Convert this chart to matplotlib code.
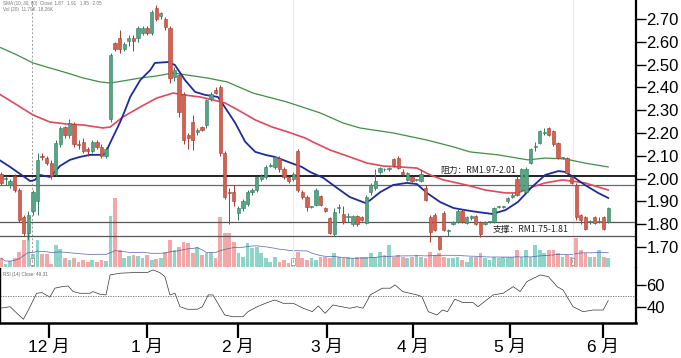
import matplotlib
matplotlib.use("Agg")
import matplotlib.pyplot as plt
import matplotlib.transforms as mtransforms
import numpy as np
import pandas as pd

plt.rcParams['font.family'] = ['Liberation Sans', 'Noto Sans CJK SC', 'DejaVu Sans']

# ---------------- data ----------------
opens = [2.02, 2.00, 1.97, 2.01, 1.95, 1.83, 1.76, 1.86, 1.90, 2.10,
         2.09, 2.07, 2.02, 2.15, 2.225, 2.19, 2.24, 2.15, 2.16, 2.13,
         2.12, 2.16, 2.14, 2.10, 2.26, 2.595, 2.615, 2.57, 2.605, 2.615,
         2.615, 2.64, 2.66, 2.64, 2.75, 2.715, 2.70, 2.66, 2.445, 2.455,
         2.37, 2.19, 2.25, 2.205, 2.225, 2.235, 2.35, 2.39, 2.40, 2.11,
         1.94, 1.94, 1.85, 1.87, 1.89, 1.94, 1.95, 2.00, 2.005, 2.055,
         2.05, 2.09, 2.04, 2.005, 2.00, 2.12, 1.94, 1.92, 1.875, 1.885,
         1.925, 1.87, 1.825, 1.755, 1.87, 1.845, 1.83, 1.80, 1.835, 1.83,
         1.805, 1.94, 1.96, 2.03, 2.04, 2.04, 2.085, 2.09, 2.03, 1.995,
         2.005, 1.995, 1.99, 1.96, 1.83, 1.84, 1.745, 1.85, 1.77, 1.80,
         1.81, 1.86, 1.805, 1.825, 1.835, 1.81, 1.80, 1.81, 1.81, 1.875,
         1.875, 1.90, 1.92, 2.00, 1.95, 1.94, 2.07, 2.14, 2.155, 2.20,
         2.22, 2.21, 2.155, 2.09, 2.09, 2.005, 1.97, 1.84, 1.83, 1.81,
         1.83, 1.81, 1.83, 1.81]
closes = [1.98, 2.00, 1.99, 1.95, 1.82, 1.76, 1.84, 1.94, 2.08, 2.095,
          2.07, 2.01, 2.155, 2.22, 2.19, 2.245, 2.15, 2.148, 2.12, 2.12,
          2.16, 2.14, 2.10, 2.13, 2.54, 2.57, 2.57, 2.59, 2.615, 2.605,
          2.66, 2.66, 2.64, 2.73, 2.70, 2.725, 2.665, 2.44, 2.475, 2.29,
          2.17, 2.18, 2.17, 2.215, 2.215, 2.345, 2.37, 2.375, 2.11, 1.92,
          1.935, 1.90, 1.87, 1.90, 1.94, 1.95, 2.005, 2.01, 2.05, 2.06,
          2.095, 2.04, 2.005, 1.99, 2.02, 1.95, 1.92, 1.875, 1.875, 1.95,
          1.885, 1.86, 1.76, 1.855, 1.87, 1.81, 1.83, 1.835, 1.80, 1.82,
          1.92, 1.97, 1.99, 2.045, 2.04, 2.045, 2.06, 2.045, 2.02, 2.025,
          1.99, 1.995, 2.02, 1.905, 1.765, 1.775, 1.69, 1.775, 1.77, 1.81,
          1.86, 1.81, 1.83, 1.835, 1.80, 1.755, 1.81, 1.81, 1.87, 1.875,
          1.875, 1.915, 1.93, 1.93, 2.04, 2.04, 2.13, 2.14, 2.21, 2.20,
          2.19, 2.15, 2.09, 2.09, 2.025, 1.98, 1.83, 1.82, 1.78, 1.81,
          1.805, 1.81, 1.78, 1.87]
highs = [2.03, 2.01, 2.00, 2.02, 1.96, 1.84, 1.86, 1.95, 2.11, 2.11,
         2.10, 2.08, 2.17, 2.23, 2.23, 2.26, 2.25, 2.17, 2.18, 2.14,
         2.17, 2.17, 2.15, 2.14, 2.55, 2.60, 2.65, 2.60, 2.63, 2.63,
         2.67, 2.67, 2.67, 2.74, 2.76, 2.73, 2.71, 2.67, 2.49, 2.46,
         2.38, 2.20, 2.28, 2.22, 2.23, 2.35, 2.38, 2.40, 2.41, 2.12,
         1.96, 1.97, 1.88, 1.91, 1.95, 1.96, 2.01, 2.02, 2.06, 2.07,
         2.10, 2.10, 2.05, 2.01, 2.03, 2.13, 1.95, 1.93, 1.88, 1.96,
         1.93, 1.875, 1.83, 1.87, 1.89, 1.88, 1.85, 1.84, 1.84, 1.835,
         1.93, 1.98, 2.04, 2.05, 2.045, 2.05, 2.09, 2.10, 2.04, 2.03,
         2.01, 2.00, 2.04, 1.97, 1.84, 1.85, 1.75, 1.86, 1.78, 1.815,
         1.87, 1.865, 1.835, 1.84, 1.84, 1.815, 1.815, 1.815, 1.875, 1.88,
         1.88, 1.92, 1.935, 2.01, 2.045, 2.05, 2.135, 2.16, 2.215, 2.22,
         2.225, 2.215, 2.16, 2.095, 2.095, 2.01, 1.98, 1.845, 1.835, 1.82,
         1.835, 1.83, 1.835, 1.875]
lows = [1.97, 1.97, 1.96, 1.94, 1.81, 1.75, 1.73, 1.84, 1.84, 2.08,
        2.06, 2.00, 2.01, 2.14, 2.18, 2.18, 2.14, 2.13, 2.11, 2.10,
        2.11, 2.13, 2.09, 2.09, 2.25, 2.56, 2.55, 2.56, 2.58, 2.56,
        2.60, 2.63, 2.63, 2.63, 2.69, 2.70, 2.65, 2.42, 2.43, 2.27,
        2.15, 2.13, 2.125, 2.19, 2.21, 2.22, 2.34, 2.37, 2.10, 1.91,
        1.80, 1.88, 1.82, 1.86, 1.88, 1.93, 1.94, 1.99, 2.00, 2.05,
        2.04, 2.03, 2.00, 1.98, 1.99, 1.94, 1.91, 1.86, 1.87, 1.88,
        1.88, 1.855, 1.755, 1.75, 1.85, 1.80, 1.81, 1.79, 1.79, 1.815,
        1.80, 1.93, 1.95, 2.02, 2.035, 2.035, 2.05, 2.04, 2.01, 1.99,
        1.985, 1.99, 1.985, 1.90, 1.72, 1.77, 1.685, 1.77, 1.75, 1.795,
        1.805, 1.805, 1.80, 1.82, 1.795, 1.745, 1.795, 1.805, 1.805, 1.87,
        1.87, 1.895, 1.915, 1.925, 1.945, 1.935, 2.065, 2.12, 2.15, 2.19,
        2.185, 2.145, 2.085, 2.085, 2.02, 1.975, 1.82, 1.80, 1.775, 1.80,
        1.80, 1.805, 1.775, 1.805]
volumes = [9, 3, 6, 9, 15, 27, 34, 13, 27, 13,
           13, 3, 22, 18, 9, 7, 9, 5, 7, 5,
           7, 5, 7, 6, 51, 69, 17, 9, 11, 12,
           11, 9, 12, 7, 8, 9, 15, 27, 17, 20,
           25, 24, 14, 20, 12, 14, 14, 9, 50, 34,
           34, 25, 14, 10, 24, 19, 20, 14, 9, 5,
           10, 5, 7, 4, 7, 15, 9, 7, 9, 7,
           10, 10, 9, 14, 10, 9, 10, 9, 10, 10,
           10, 14, 10, 15, 12, 22, 10, 12, 10, 9,
           10, 12, 10, 9, 15, 12, 14, 10, 9, 9,
           10, 7, 5, 10, 10, 14, 9, 7, 10, 9,
           10, 10, 10, 17, 10, 17, 10, 22, 17, 14,
           17, 17, 14, 10, 12, 10, 29, 17, 14, 10,
           10, 17, 10, 9]

# moving averages (trading-day position, price)
ma10_day = [-0.4, 2.0, 4.2, 6.4, 7.4, 8.5, 10.7, 11.8, 12.9, 15.1, 17.3, 19.5, 21.7, 22.8,
            23.9, 26.1, 27.2, 28.3, 30.5, 32.7, 33.7, 36.6, 38.1, 40.3, 42.5, 44.7, 47.5,
            49.0, 51.3, 53.5, 55.7, 57.9, 60.0, 62.9, 65.9, 67.7, 70.6, 73.6, 76.4, 79.8,
            80.9, 83.1, 85.9, 88.9, 91.1, 93.3, 96.2, 99.1, 101.6, 104.5, 107.6, 110.5,
            113.2, 116.3, 119.2, 122.1, 123.6, 125.7, 127.9, 130.8, 133.0]
ma10_val = [2.082, 2.051, 2.020, 1.989, 1.994, 2.016, 2.007, 2.029, 2.055, 2.082, 2.095, 2.104,
            2.104, 2.108, 2.156, 2.248, 2.301, 2.358, 2.432, 2.476, 2.507, 2.511, 2.498, 2.432,
            2.380, 2.367, 2.358, 2.314, 2.244, 2.161, 2.117, 2.104, 2.095, 2.073, 2.051, 2.029,
            2.003, 1.959, 1.919, 1.893, 1.906, 1.941, 1.972, 1.981, 1.976, 1.937, 1.897, 1.871,
            1.862, 1.853, 1.845, 1.862, 1.897, 1.963, 2.016, 2.033, 2.029, 2.003, 1.972, 1.937,
            1.915]
ma30_day = [-0.4, 3.5, 7.0, 10.7, 14.5, 18.0, 22.3, 23.9, 26.7, 30.5, 34.1, 37.7, 39.9, 43.6,
            46.4, 49.0, 51.9, 55.7, 59.4, 62.9, 66.6, 68.8, 72.1, 76.4, 80.2, 83.7, 87.4, 91.1,
            94.0, 96.9, 99.9, 102.7, 106.0, 110.5, 113.2, 116.3, 119.2, 122.9, 125.1, 127.9,
            130.8, 133.0]
ma30_val = [2.371, 2.323, 2.279, 2.248, 2.239, 2.235, 2.222, 2.226, 2.270, 2.314, 2.353, 2.375,
            2.367, 2.358, 2.345, 2.332, 2.301, 2.257, 2.226, 2.204, 2.178, 2.156, 2.125, 2.095,
            2.068, 2.055, 2.051, 2.046, 2.016, 1.994, 1.981, 1.968, 1.950, 1.937, 1.937, 1.963,
            1.981, 1.994, 1.989, 1.981, 1.963, 1.950]
ma60_day = [-0.4, 3.5, 7.0, 10.7, 14.5, 18.0, 21.7, 23.9, 26.7, 30.5, 34.1, 37.7, 40.8, 45.2,
            49.5, 55.2, 62.6, 69.9, 74.9, 78.6, 85.9, 93.3, 99.1, 102.7, 108.9, 115.4, 119.2,
            123.6, 127.9, 133.0]
ma60_val = [2.577, 2.542, 2.507, 2.485, 2.463, 2.441, 2.424, 2.419, 2.428, 2.441, 2.450, 2.463,
            2.454, 2.441, 2.424, 2.375, 2.336, 2.288, 2.244, 2.222, 2.200, 2.169, 2.139, 2.117,
            2.104, 2.082, 2.090, 2.086, 2.068, 2.051]

rsi_day = [-0.2, 2.0, 3.5, 4.9, 6.0, 7.8, 9.0, 10.7, 11.8, 13.4, 14.7, 15.8, 17.3, 19.5, 20.1,
           21.7, 23.0, 23.9, 26.1, 28.9, 32.0, 33.3, 34.8, 35.9, 37.0, 38.1, 39.2, 40.8, 43.0,
           44.1, 45.4, 46.4, 47.5, 49.0, 50.8, 53.0, 54.1, 56.1, 58.3, 60.0, 61.8, 64.0, 66.2,
           68.2, 69.5, 71.0, 72.7, 74.2, 76.4, 78.0, 79.3, 80.9, 83.5, 85.3, 86.3, 88.0, 91.1,
           92.2, 93.6, 95.5, 96.7, 97.8, 99.4, 101.2, 103.4, 104.5, 105.6, 107.8, 110.0, 112.2,
           113.7, 115.2, 118.1, 119.9, 121.8, 123.1, 125.3, 127.5, 129.7, 131.9, 133.0]
rsi_val = [39.3, 40.7, 34.7, 29.3, 37.7, 52.9, 53.5, 49.3, 57.5, 58.9, 59.5, 54.4, 52.9, 52.9,
           54.4, 52.0, 51.4, 69.5, 71.1, 71.6, 71.6, 74.1, 71.6, 68.0, 51.4, 52.9, 40.7, 38.4,
           38.4, 40.7, 51.4, 51.4, 43.8, 33.2, 31.6, 31.6, 36.2, 40.7, 44.4, 46.8, 43.8, 43.8,
           39.3, 36.2, 41.4, 34.7, 42.3, 41.0, 39.3, 40.7, 39.3, 51.4, 57.5, 57.5, 60.5, 54.4,
           51.4, 49.8, 36.2, 33.2, 37.7, 36.2, 47.5, 44.4, 44.4, 40.7, 44.4, 51.4, 52.9, 58.9,
           54.4, 63.5, 69.5, 68.0, 58.9, 55.9, 40.7, 36.2, 37.7, 37.7, 46.2]

price_ticks = [1.70, 1.80, 1.90, 2.00, 2.10, 2.20, 2.30, 2.40, 2.50, 2.60, 2.70]
rsi_ticks = [40, 60]
month_pos = [10.5, 32.0, 51.9, 71.4, 90.3, 111.5, 131.9]
month_labels = ["12 月", "1 月", "2 月", "3 月", "4 月", "5 月", "6 月"]
resist_lines = [2.01, 1.97]
support_lines = [1.81, 1.75]
resist_label = "阻力：RM1.97-2.01"
support_label = "支撑：RM1.75-1.81"
event_days = [6.8, 64.0, 125.2]
rsi_label = "RSI (14) Close: 49.31"

# ---------------- figure ----------------
UP, UP_E = '#55a584', '#2f7a5c'
DN, DN_E = '#d6604f', '#a8392c'
VUP, VDN = '#8fd4c9', '#f4a7a7'

fig = plt.figure(figsize=(6.81, 3.58), dpi=100)
rect_main = [0.0, 0.254, 0.934, 0.746]
axv = fig.add_axes(rect_main)
ax = fig.add_axes(rect_main)
ax.patch.set_visible(False)
axr = fig.add_axes([0.0, 0.098, 0.934, 0.154])

n = len(closes)
x = np.arange(n)
o = np.array(opens); c = np.array(closes)
h = np.array(highs); l = np.array(lows)
up = c >= o
xlim = (-0.22, 139.1)

# volume
vol = np.array(volumes, dtype=float)
axv.bar(x, vol, width=0.82, color=np.where(up, VUP, VDN), linewidth=0)
vma = pd.Series(vol).rolling(20, min_periods=1).mean()
axv.plot(x, vma, color='#4a5aa8', lw=0.6, alpha=0.8)
axv.set_ylim(0, 267)
axv.set_xlim(*xlim)
axv.axis('off')

# event lines
for i, d in enumerate(event_days):
    if i == 0:
        ax.axvline(d, color='#9a9a9a', lw=0.7, ls=(0, (2, 2)), zorder=1)
    else:
        ax.axvline(d, color='#ececec', lw=0.8, zorder=0)
    ax.text(d, 0.012, 'i', transform=mtransforms.blended_transform_factory(ax.transData, ax.transAxes),
            fontsize=3.5, ha='center', va='bottom', color='#555',
            bbox=dict(boxstyle='square,pad=0.25', fc='white', ec='#777', lw=0.4), zorder=6)

# levels
ax.axhline(resist_lines[0], color='#111111', lw=1.3, zorder=2)
ax.axhline(resist_lines[1], color='#6a6a6a', lw=0.9, zorder=2)
for lv in support_lines:
    ax.axhline(lv, color='#555555', lw=0.9, zorder=2)

# moving averages
ax.plot(ma60_day, ma60_val, color='#3f8f45', lw=0.9, zorder=3)
ax.plot(ma30_day, ma30_val, color='#e2475c', lw=1.2, zorder=3)
ax.plot(ma10_day, ma10_val, color='#1e2b9e', lw=1.3, zorder=3)

# candles
ax.vlines(x, l, h, colors=np.where(up, UP_E, DN_E), lw=0.7, zorder=4)
body_low = np.minimum(o, c)
body_h = np.maximum(np.abs(c - o), 0.004)
ax.bar(x, body_h, bottom=body_low, width=0.72, color=np.where(up, UP, DN),
       edgecolor=np.where(up, UP_E, DN_E), linewidth=0.4, zorder=5)

ax.text(96.2, 2.038, resist_label, fontsize=6.3, color='#222',
        family=['Noto Sans CJK SC', 'DejaVu Sans'], va='center', ha='left', zorder=7)
ax.text(107.8, 1.778, support_label, fontsize=6.3, color='#222',
        family=['Noto Sans CJK SC', 'DejaVu Sans'], va='center', ha='left', zorder=7)

ax.text(0.005, 0.998, "SMA (10, 30, 60)  Close: 1.87   1.91   1.95   2.05", transform=ax.transAxes,
        fontsize=3.3, color='#777', va='top', ha='left')
ax.text(0.005, 0.975, "Vol (20)  11.79K  18.26K", transform=ax.transAxes,
        fontsize=3.3, color='#777', va='top', ha='left')

ax.set_xlim(*xlim)
ax.set_ylim(1.612, 2.783)
ax.yaxis.tick_right()
ax.set_yticks(price_ticks)
ax.set_yticklabels([f"{t:.2f}" for t in price_ticks])
ax.tick_params(axis='y', length=7, width=1.0, pad=0.5, labelsize=12, color='black')
ax.set_xticks([])
for s in ['left', 'top', 'bottom']:
    ax.spines[s].set_visible(False)
ax.spines['right'].set_linewidth(1.6)

# RSI
axr.plot(rsi_day, rsi_val, color='#333333', lw=0.5)
axr.axhline(50, color='#666666', lw=0.6, ls=(0, (1.5, 1.5)))
axr.text(0.005, 0.93, rsi_label, transform=axr.transAxes, fontsize=3.3, color='#666', va='top')
axr.set_xlim(*xlim)
axr.set_ylim(26, 76)
axr.yaxis.tick_right()
axr.set_yticks(rsi_ticks)
axr.set_yticklabels([str(t) for t in rsi_ticks])
axr.tick_params(axis='y', length=7, width=1.0, pad=0.5, labelsize=12)
axr.set_xticks(month_pos)
axr.set_xticklabels(month_labels)
axr.tick_params(axis='x', length=11, width=1.6, pad=1, labelsize=12.5)
axr.spines['top'].set_visible(False)
axr.spines['left'].set_linewidth(1.0)
axr.spines['right'].set_linewidth(1.6)
axr.spines['bottom'].set_linewidth(1.8)

fig.savefig("out.png", dpi=100)
